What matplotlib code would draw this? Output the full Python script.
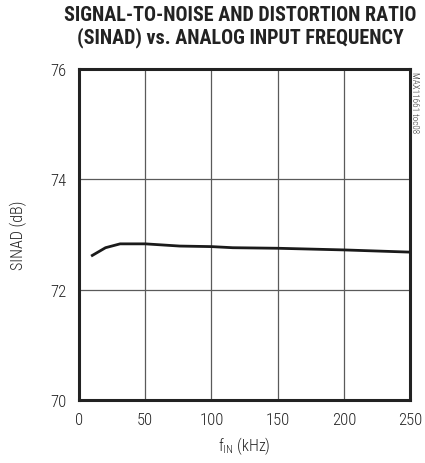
import matplotlib
matplotlib.use('Agg')
import matplotlib.pyplot as plt

# SINAD vs input frequency
freq_khz = [10, 20, 31, 50, 76, 100, 116, 150, 200, 250]
sinad_db = [72.62, 72.76, 72.83, 72.83, 72.79, 72.78, 72.76, 72.75, 72.72, 72.68]

x_ticks = [0, 50, 100, 150, 200, 250]
y_ticks = [70, 72, 74, 76]

plt.rcParams['font.family'] = ['Roboto Condensed', 'DejaVu Sans']
plt.rcParams['font.stretch'] = 'condensed'

fig = plt.figure(figsize=(4.25, 4.64), dpi=100)
ax = fig.add_axes([0.186, 0.136, 0.779, 0.713])

ax.plot(freq_khz, sinad_db, color='#1a1a1a', linewidth=2.0, zorder=3)

ax.set_xlim(0, 250)
ax.set_ylim(70, 76)
ax.set_xticks(x_ticks)
ax.set_yticks(y_ticks)
ax.grid(True, color='#5a5a5a', linewidth=0.9)
ax.tick_params(length=0, labelsize=12, pad=9, colors='#222222')
for lbl in ax.get_xticklabels() + ax.get_yticklabels():
    lbl.set_fontweight('light')
for s in ax.spines.values():
    s.set_linewidth(2.2)
    s.set_color('#222222')

ax.set_xlabel('f$_{\\mathregular{IN}}$ (kHz)', fontsize=11.5, color='#222222', labelpad=5,
              fontweight='light')
ax.set_ylabel('SINAD (dB)', fontsize=11.5, color='#222222', labelpad=17, fontweight='light')

fig.text(0.565, 0.987, 'SIGNAL-TO-NOISE AND DISTORTION RATIO\n(SINAD) vs. ANALOG INPUT FREQUENCY',
         ha='center', va='top', fontsize=14.5, fontweight='heavy', color='#222222', linespacing=1.12)
fig.text(0.975, 0.845, 'MAX11661 toc08', rotation=270, ha='center', va='top',
         fontsize=6.5, color='#333333', fontweight='light')

fig.savefig('out.png', dpi=100)
